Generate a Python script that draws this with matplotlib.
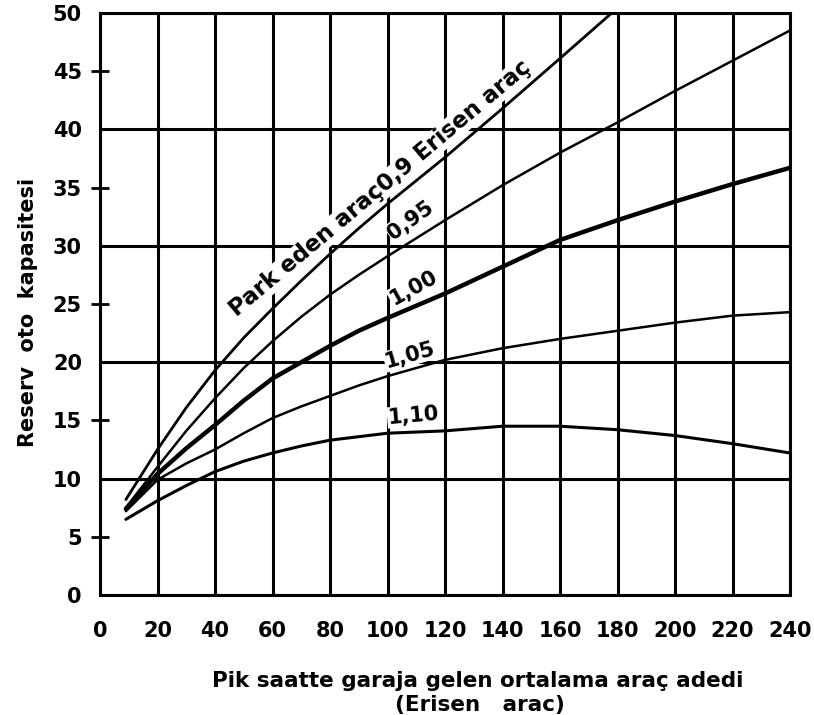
import matplotlib
matplotlib.use("Agg")
import matplotlib.pyplot as plt
from matplotlib.ticker import FixedLocator, FormatStrFormatter

# ---- data ----
x_090 = [9, 20, 30, 40, 50, 60, 70, 80, 90, 100, 110, 120, 140, 160, 178]
y_090 = [8.2, 12.5, 16.1, 19.3, 22.1, 24.6, 27.0, 29.3, 31.5, 33.6, 35.6, 37.6, 41.8, 46.1, 50.0]

x_std = [9, 20, 30, 40, 50, 60, 70, 80, 90, 100, 120, 140, 160, 180, 200, 220, 240]
y_095 = [7.5, 11.0, 14.1, 16.9, 19.5, 21.8, 23.9, 25.8, 27.5, 29.1, 32.2, 35.2, 38.0, 40.6, 43.3, 45.9, 48.5]
y_100 = [7.4, 10.4, 12.6, 14.6, 16.7, 18.6, 20.0, 21.4, 22.7, 23.8, 25.9, 28.2, 30.5, 32.2, 33.8, 35.3, 36.7]
y_105 = [7.2, 9.9, 11.3, 12.5, 13.9, 15.2, 16.2, 17.1, 18.0, 18.8, 20.2, 21.2, 22.0, 22.7, 23.4, 24.0, 24.3]
y_110 = [6.5, 8.1, 9.4, 10.6, 11.5, 12.2, 12.8, 13.3, 13.6, 13.9, 14.1, 14.5, 14.5, 14.2, 13.7, 13.0, 12.2]

x_ticks = [0, 20, 40, 60, 80, 100, 120, 140, 160, 180, 200, 220, 240]
y_major = [0, 10, 20, 30, 40, 50]
y_minor = [5, 15, 25, 35, 45]

curve_labels = ["Park eden araç0,9 Erisen araç", "0,95", "1,00", "1,05", "1,10"]

xlabel_1 = "Pik saatte garaja gelen ortalama araç adedi"
xlabel_2 = "(Erisen   arac)"
ylabel = "Reserv  oto  kapasitesi"

# ---- figure ----
plt.rcParams['font.family'] = ['DejaVu Sans']
fig = plt.figure(figsize=(8.14, 7.15), dpi=100)
ax = fig.add_axes([100/814, 1-595/715, 690/814, (595-13)/715])

ax.set_xlim(0, 240)
ax.set_ylim(0, 50)

lw_grid = 2.2
for s in ax.spines.values():
    s.set_linewidth(lw_grid)
    s.set_color("black")

ax.xaxis.set_major_locator(FixedLocator(x_ticks))
ax.yaxis.set_major_locator(FixedLocator(y_major))
ax.yaxis.set_minor_locator(FixedLocator(y_minor))
ax.yaxis.set_minor_formatter(FormatStrFormatter('%d'))
ax.grid(True, which='major', color='black', linewidth=lw_grid, zorder=1)

ax.tick_params(axis='x', which='major', length=0, pad=19, labelsize=15)
ax.tick_params(axis='y', which='major', length=0, pad=13, labelsize=15)
ax.tick_params(axis='y', which='minor', length=13, width=2, direction='inout',
               pad=6.5, labelsize=15)
for lab in ax.get_xticklabels() + ax.get_yticklabels() + ax.get_yticklabels(minor=True):
    lab.set_fontweight('bold')

ax.set_axisbelow(True)

ax.plot(x_090, y_090, color='black', lw=2.0, zorder=3, solid_capstyle='round')
ax.plot(x_std, y_095, color='black', lw=1.8, zorder=3, solid_capstyle='round')
ax.plot(x_std, y_100, color='black', lw=3.2, zorder=3, solid_capstyle='round')
ax.plot(x_std, y_105, color='black', lw=1.8, zorder=3, solid_capstyle='round')
ax.plot(x_std, y_110, color='black', lw=2.2, zorder=3, solid_capstyle='round')

bb = dict(facecolor='white', edgecolor='none', pad=0.5)
lab_kw = dict(fontweight='bold', ha='center', va='center',
              rotation_mode='anchor', bbox=bb, zorder=2)
ax.text(97.5, 34.9, curve_labels[0], rotation=40, fontsize=16.5, **lab_kw)
ax.text(108, 32.2, curve_labels[1], rotation=36, fontsize=15, **lab_kw)
ax.text(109, 26.4, curve_labels[2], rotation=29, fontsize=15, **lab_kw)
ax.text(107.8, 20.6, curve_labels[3], rotation=16, fontsize=15, **lab_kw)
ax.text(109, 15.4, curve_labels[4], rotation=5, fontsize=15, **lab_kw)

fig.text(478/814, 1-681/715, xlabel_1, ha='center', va='center',
         fontsize=15.5, fontweight='bold')
fig.text(480/814, 1-705/715, xlabel_2, ha='center', va='center',
         fontsize=15.5, fontweight='bold')
fig.text(28/814, 1-312/715, ylabel, ha='center', va='center', rotation=90,
         fontsize=15, fontweight='bold')

fig.savefig("out.png", dpi=100, facecolor='white')
